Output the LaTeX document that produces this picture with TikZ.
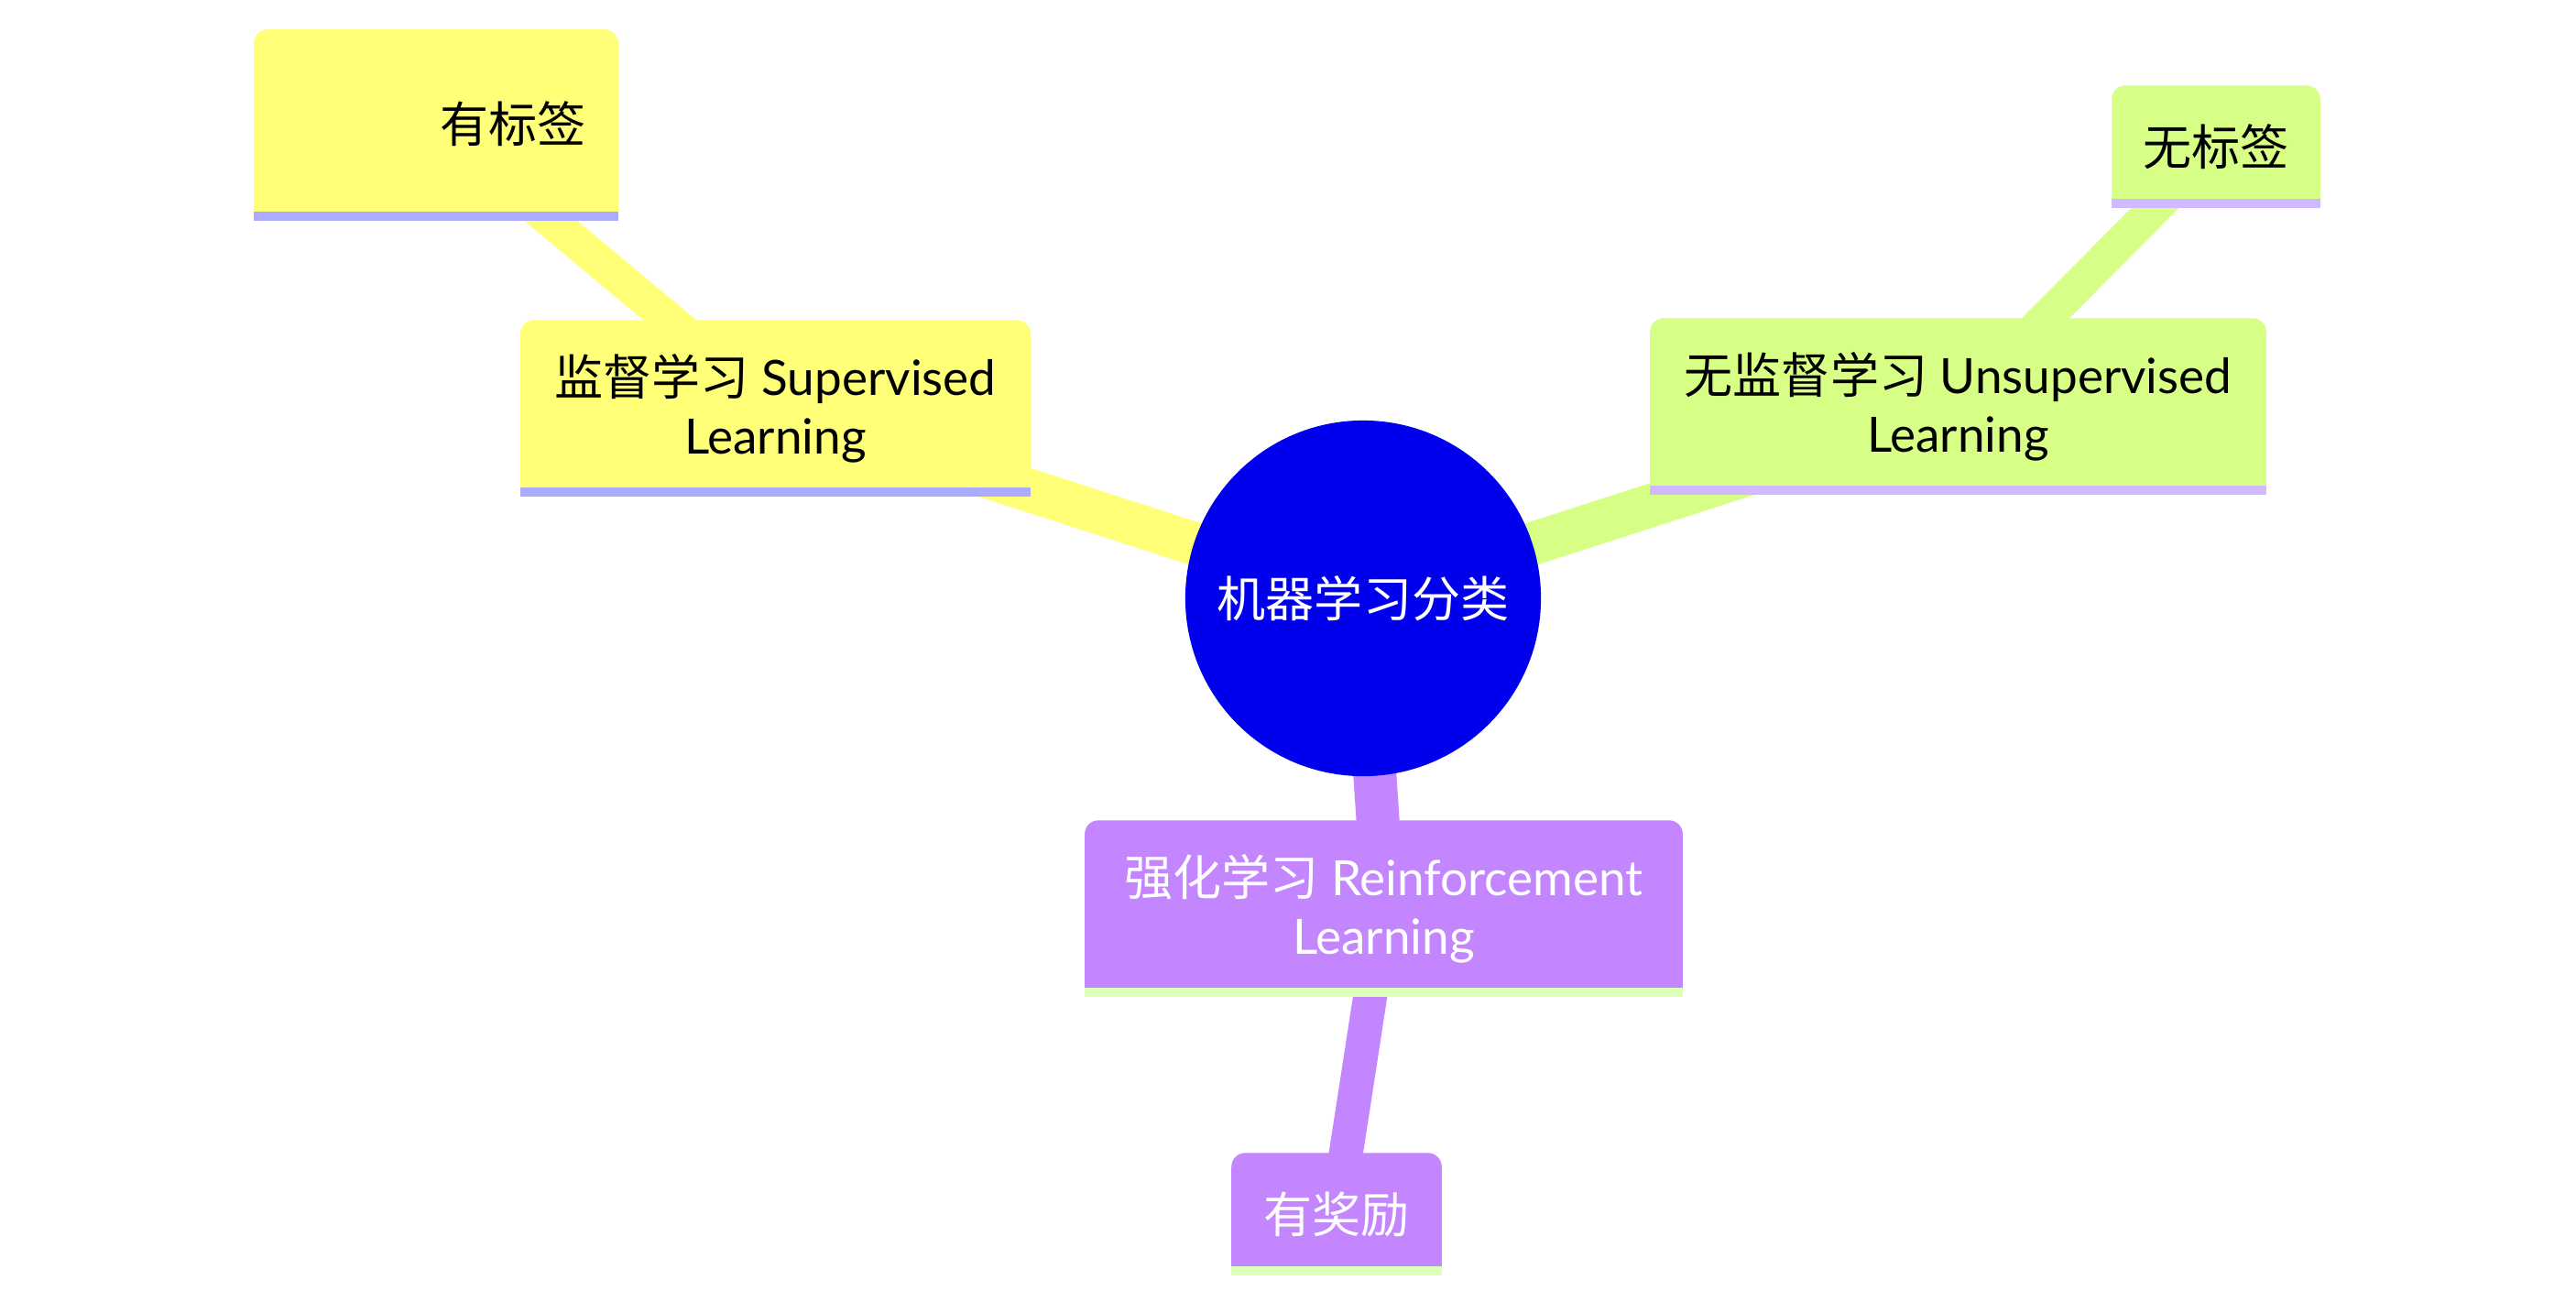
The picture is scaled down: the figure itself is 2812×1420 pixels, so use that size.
\documentclass[tikz,border=0pt]{standalone}
\usepackage{fontspec}
\setmainfont{Lato}
\newfontfamily\cjk{Noto Sans CJK SC}
\usetikzlibrary{backgrounds}
\definecolor{yel}{HTML}{FFFF78}
\definecolor{yelbar}{HTML}{ABABFF}
\definecolor{grn}{HTML}{D7FF86}
\definecolor{grnbar}{HTML}{D0B9FF}
\definecolor{pur}{HTML}{C386FF}
\definecolor{purbar}{HTML}{DCFFB9}
\definecolor{rootc}{HTML}{0000EC}
\tikzset{
  txt/.style={font=\fontsize{15.1pt}{18.2pt}\selectfont, align=center, inner sep=0pt},
  boxn/.style={txt, rectangle},
  edge0/.style={line width=0.47cm},
  edge1/.style={line width=0.37cm},
}
\newcommand\mmbox[3]{%
  \fill[#2] (#1.south west) [rounded corners=0.15cm] -- (#1.north west) -- (#1.north east) [sharp corners] -- (#1.south east) -- cycle;
  \fill[#3] ([yshift=0.1cm]#1.south west) rectangle (#1.south east);
}
\begin{document}
\begin{tikzpicture}[x=0.01cm, y=-0.01cm]
\useasboundingbox (0,0) rectangle (2812,1420);
% nodes
\node[txt, circle, fill=rootc, text=white, minimum size=3.88cm] (root) at (1488,653) {\cjk 机器学习分类};
\node[boxn, minimum width=5.55cm, minimum height=1.91cm] (sup) at (846.5,445.5) {{\cjk 监督学习} Supervised\\Learning};
\node[boxn, minimum width=3.96cm, minimum height=2.07cm] (lab) at (476,136.5) {};
\node[txt] (labt) at (560,135) {\cjk 有标签};
\node[boxn, minimum width=6.71cm, minimum height=1.91cm] (unsup) at (2137.5,443.5) {{\cjk 无监督学习} Unsupervised\\Learning};
\node[boxn, minimum width=2.26cm, minimum height=1.32cm] (nolab) at (2419,160) {\cjk 无标签};
\node[boxn, text=white, minimum width=6.51cm, minimum height=1.91cm] (rl) at (1510.5,991.5) {{\cjk 强化学习} Reinforcement\\Learning};
\node[boxn, text=white, minimum width=2.28cm, minimum height=1.32cm] (rew) at (1459,1325) {\cjk 有奖励};
\begin{pgfonlayer}{background}
  \fill[white] (0,0) rectangle (2812,1420);
  % edges
  \draw[edge0, yel] (root.center) -- (sup.center);
  \draw[edge1, yel] (sup.center) -- (lab.center);
  \draw[edge0, grn] (root.center) -- (unsup.center);
  \draw[edge1, grn] (unsup.center) -- (nolab.center);
  \draw[edge0, pur] (root.center) -- (rl.center);
  \draw[edge1, pur] (rl.center) -- (rew.center);
  % boxes
  \mmbox{lab}{yel}{yelbar}
  \mmbox{sup}{yel}{yelbar}
  \mmbox{nolab}{grn}{grnbar}
  \mmbox{unsup}{grn}{grnbar}
  \mmbox{rew}{pur}{purbar}
  \mmbox{rl}{pur}{purbar}
\end{pgfonlayer}
\end{tikzpicture}
\end{document}
